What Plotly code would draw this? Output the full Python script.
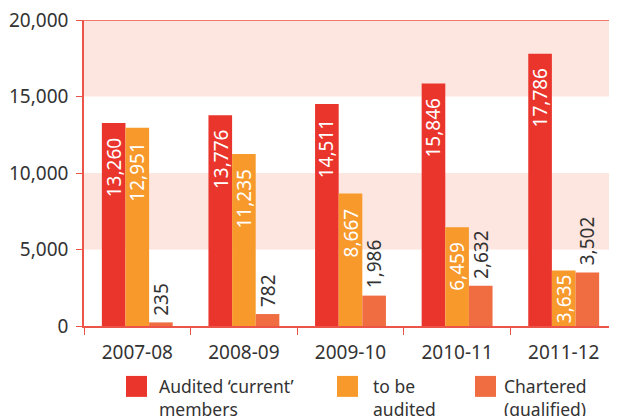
import plotly.graph_objects as go

years = ["2007-08", "2008-09", "2009-10", "2010-11", "2011-12"]
audited_current = [13260, 13776, 14511, 15846, 17786]
to_be_audited = [12951, 11235, 8667, 6459, 3635]
chartered = [235, 782, 1986, 2632, 3502]
series_names = ["Audited ‘current’<br>members", "to be<br>audited", "Chartered<br>(qualified)"]
y_ticks = [0, 5000, 10000, 15000, 20000]

RED = "#ea352d"
ORANGE = "#f7992b"
CHART = "#ef6d40"
BAND = "#fde6df"
AXIS = "#ec5448"
TXT = "#333333"
FONT = "Noto Sans"
FS = 19
BARGAP = 0.335

OFF = 8  # page body margin
W, H = 617 - OFF, 416 - OFF
L, R, T, B = 84 - OFF, 0, 19.5 - OFF, 90
pw, ph = W - L - R, H - T - B

def px_x(x):
    return (x - OFF - L) / pw

def px_y(y):
    return (H - B - (y - OFF)) / ph

fig = go.Figure()
series = [
    (audited_current, RED, "Audited ‘current’ members", "inside"),
    (to_be_audited, ORANGE, "to be audited", "inside"),
    (chartered, CHART, "Chartered (qualified)", "outside"),
]
bw = (1 - BARGAP) / len(series)
for k, (vals, col, nm, pos) in enumerate(series):
    fig.add_bar(x=list(range(len(years))), y=vals, marker_color=col,
                marker_line_width=0, name=nm, showlegend=False)
    off = (k - (len(series) - 1) / 2) * bw
    for i, v in enumerate(vals):
        lab = f"{v:,}"
        if pos == "inside" and v >= 5000:
            fig.add_annotation(x=i + off, y=v, xref="x", yref="y", text=lab,
                               textangle=-90, showarrow=False, xanchor="center",
                               yanchor="top", yshift=-13,
                               font=dict(color="white", size=FS, family=FONT))
        elif pos == "inside":
            fig.add_annotation(x=i + off, y=0, xref="x", yref="y", text=lab,
                               textangle=-90, showarrow=False, xanchor="center",
                               yanchor="bottom", yshift=1,
                               font=dict(color="white", size=FS, family=FONT))
        else:
            fig.add_annotation(x=i + off, y=v, xref="x", yref="y", text=lab,
                               textangle=-90, showarrow=False, xanchor="center",
                               yanchor="bottom", yshift=5,
                               font=dict(color=TXT, size=FS, family=FONT))

# background bands
for y0, y1 in [(5000, 10000), (15000, 20000)]:
    fig.add_shape(type="rect", xref="paper", yref="y", x0=0, x1=1, y0=y0, y1=y1,
                  fillcolor=BAND, line_width=0, layer="below")
fig.add_shape(type="line", xref="paper", yref="y", x0=0, x1=1, y0=20000, y1=20000,
              line=dict(color=AXIS, width=1.5))

# legend (manual)
legend_items = [(126, 157, RED), (337, 371, ORANGE), (475, 502, CHART)]
for (sx, tx, col), name in zip(legend_items, series_names):
    fig.add_shape(type="rect", xref="paper", yref="paper",
                  x0=px_x(sx), x1=px_x(sx + 21), y0=px_y(376), y1=px_y(397),
                  fillcolor=col, line_width=0)
    fig.add_annotation(xref="paper", yref="paper", x=px_x(tx), y=px_y(372),
                       xanchor="left", yanchor="top", text=name, showarrow=False,
                       align="left", font=dict(size=17.5, color=TXT, family=FONT))

fig.update_layout(
    width=W, height=H, margin=dict(l=L, r=R, t=T, b=B, autoexpand=False),
    paper_bgcolor="white", plot_bgcolor="white",
    barmode="group", bargap=BARGAP, bargroupgap=0,
    font=dict(family=FONT, color=TXT, size=FS),
    showlegend=False,
)
fig.update_xaxes(tickmode="array", tickvals=list(range(len(years))), ticktext=years,
                 range=[-0.5, len(years) - 0.5],
                 showline=True, linecolor=AXIS, linewidth=1.5, showgrid=False,
                 ticks="", ticklabelstandoff=8, automargin=False, zeroline=False,
                 minor=dict(tickvals=[i - 0.5 for i in range(len(years) + 1)],
                            ticks="outside", ticklen=7, tickcolor=AXIS,
                            showgrid=False),
                 tickfont=dict(size=FS, color=TXT))
fig.update_yaxes(range=[0, 20000], tickvals=y_ticks, tickformat=",",
                 showline=True, linecolor=AXIS, linewidth=1.5, ticks="outside",
                 ticklen=6, tickcolor=AXIS, showgrid=False, zeroline=False,
                 ticklabelstandoff=4, ticklabeloverflow="allow", automargin=False,
                 tickfont=dict(size=FS, color=TXT))

fig.write_html("out.html")
